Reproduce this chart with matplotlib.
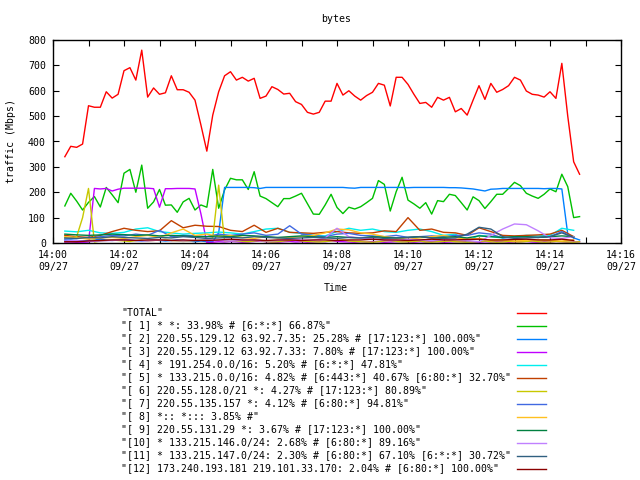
import matplotlib
matplotlib.use("Agg")
import matplotlib.pyplot as plt
from matplotlib.lines import Line2D

plt.rcParams['font.family'] = ['DejaVu Sans Mono']

# sample times, seconds after 14:00:00
t10 = list(range(20, 900, 10))
t20 = list(range(20, 900, 20))

total = [340, 381, 377, 390, 541, 535, 535, 596, 571, 586,
         679, 691, 642, 760, 575, 611, 586, 592, 659, 604,
         604, 594, 563, 465, 362, 504, 596, 659, 675, 642,
         653, 638, 649, 570, 579, 616, 605, 587, 590, 557,
         546, 515, 508, 515, 559, 559, 629, 583, 600, 579,
         563, 581, 594, 629, 622, 540, 653, 653, 625, 586,
         550, 554, 535, 574, 563, 574, 517, 530, 504, 563,
         620, 566, 629, 594, 605, 620, 653, 642, 599, 586,
         583, 575, 596, 570, 708, 500, 320, 271]

s1 = [146, 196, 165, 130, 160, 183, 142, 219, 190, 159,
      275, 290, 200, 307, 137, 162, 211, 149, 150, 121,
      162, 176, 130, 150, 141, 290, 137, 209, 255, 249,
      249, 211, 281, 185, 175, 159, 143, 175, 175, 185,
      196, 155, 114, 113, 150, 192, 140, 116, 141, 134,
      143, 159, 176, 246, 231, 126, 202, 259, 169, 154,
      137, 159, 114, 167, 163, 192, 187, 159, 130, 182,
      167, 136, 163, 192, 192, 215, 239, 226, 196, 185,
      176, 192, 213, 202, 271, 222, 100, 104]

s2 = [10, 12, 10, 8, 10, 12, 15, 12, 10, 12,
      15, 12, 10, 8, 10, 12, 10, 8, 10, 12,
      10, 8, 5, 8, 5, 5, 40, 219,
      219, 219, 219, 219, 218, 215, 219, 219, 219, 219,
      219, 219, 219, 219, 219, 219, 219, 219, 219, 219,
      217, 216, 219, 219, 219, 219, 219, 219, 219, 219,
      218, 219, 219, 219, 219, 219, 219, 218, 218, 217,
      215, 213, 209, 205, 212, 213, 215, 215, 215, 215,
      215, 215, 215, 214, 215, 215,
      213, 35, 20, 12]

s3 = [4, 4, 3, 3, 3,
      215, 213, 215, 205, 212, 216, 216, 216, 216, 216,
      214, 141, 214, 214, 215, 215, 215, 213,
      115, 2,
      3, 5, 4, 6, 5, 3, 4, 6, 8, 5,
      4, 3, 5, 6, 4, 5, 3, 4, 6, 5,
      8, 6, 5, 4, 3, 5, 4, 6, 5, 3,
      4, 5, 6, 4, 3, 5, 4, 6, 5, 3,
      4, 5, 6, 5, 4, 3, 5, 4, 6, 5,
      3, 4, 5, 6, 4, 3, 5, 4, 6, 5,
      3, 4, 5]

s6 = [20, 18, 25, 100, 215, 4,
      8, 10, 12, 10, 8, 6, 10, 12, 8, 10,
      12, 15, 10, 8, 6, 8, 10, 12, 15,
      20, 228, 8,
      10, 8, 6, 5, 8, 10, 6, 4, 5, 8,
      10, 12, 8, 6, 5, 4, 6, 8, 10, 12,
      8, 6, 5, 4, 3, 5, 8, 10, 6, 4,
      5, 6, 8, 4, 3, 5, 6, 8, 5, 4,
      3, 4, 6, 8, 5, 3, 4, 6, 5, 4,
      6, 8, 5, 3, 4, 6, 5, 4, 3, 5]

# smaller flows, every 20 s
s4 = [47, 44, 50, 40, 38, 42, 55, 60, 45, 40, 35,
      38, 40, 43, 40, 35, 45, 55, 58, 42, 38, 30,
      28, 45, 58, 50, 55, 45, 42, 50, 55, 45, 30,
      35, 8, 30, 25, 20, 25, 30, 28, 30, 58, 50]
s5 = [30, 25, 22, 30, 45, 58, 50, 45, 48, 88, 60,
      70, 66, 65, 50, 45, 70, 42, 58, 42, 40, 38,
      42, 45, 40, 38, 40, 48, 45, 100, 50, 55, 42,
      40, 30, 60, 45, 30, 28, 30, 32, 35, 50, 25]
s7 = [15, 20, 18, 25, 30, 28, 35, 30, 50, 25, 30,
      28, 25, 35, 30, 35, 40, 30, 35, 68, 35, 30,
      25, 35, 38, 30, 28, 25, 30, 22, 25, 28, 25,
      30, 30, 40, 35, 20, 22, 25, 22, 25, 45, 20]
s8 = [25, 22, 15, 20, 22, 18, 25, 30, 22, 40, 55,
      30, 35, 25, 30, 22, 18, 25, 20, 22, 25, 30,
      40, 55, 52, 40, 35, 25, 20, 15, 20, 25, 30,
      20, 15, 18, 10, 12, 8, 10, 12, 10, 8, 12]
s9 = [35, 32, 30, 32, 35, 33, 30, 32, 28, 30, 28,
      25, 25, 28, 25, 30, 28, 25, 22, 25, 28, 25,
      22, 25, 22, 20, 25, 22, 20, 22, 25, 20, 22,
      25, 20, 28, 25, 22, 25, 25, 22, 25, 28, 25]
s10 = [8, 10, 5, 8, 10, 12, 10, 8, 12, 10, 8,
       10, 12, 10, 8, 10, 12, 8, 10, 15, 12, 10,
       20, 58, 25, 20, 15, 12, 10, 15, 12, 10, 12,
       15, 10, 5, 30, 55, 75, 72, 48, 20, 18, 25]
s11 = [20, 18, 22, 20, 25, 22, 20, 18, 22, 20, 25,
       22, 18, 20, 22, 20, 25, 22, 20, 18, 20, 22,
       20, 18, 22, 20, 22, 18, 20, 22, 25, 20, 18,
       20, 35, 62, 55, 25, 18, 20, 22, 25, 40, 22]
s12 = [5, 5, 8, 10, 12, 12, 10, 12, 12, 10, 12,
       10, 10, 12, 15, 12, 12, 10, 12, 12, 10, 12,
       12, 10, 12, 12, 15, 12, 12, 10, 12, 15, 12,
       12, 14, 15, 12, 12, 14, 15, 12, 12, 15, 10]

labels = ['"TOTAL"',
          '"[ 1] * *: 33.98% # [6:*:*] 66.87%"',
          '"[ 2] 220.55.129.12 63.92.7.35: 25.28% # [17:123:*] 100.00%"',
          '"[ 3] 220.55.129.12 63.92.7.33: 7.80% # [17:123:*] 100.00%"',
          '"[ 4] * 191.254.0.0/16: 5.20% # [6:*:*] 47.81%"',
          '"[ 5] * 133.215.0.0/16: 4.82% # [6:443:*] 40.67% [6:80:*] 32.70%"',
          '"[ 6] 220.55.128.0/21 *: 4.27% # [17:123:*] 80.89%"',
          '"[ 7] 220.55.135.157 *: 4.12% # [6:80:*] 94.81%"',
          '"[ 8] *:: *::: 3.85% #"',
          '"[ 9] 220.55.131.29 *: 3.67% # [17:123:*] 100.00%"',
          '"[10] * 133.215.146.0/24: 2.68% # [6:80:*] 89.16%"',
          '"[11] * 133.215.147.0/24: 2.30% # [6:80:*] 67.10% [6:*:*] 30.72%"',
          '"[12] 173.240.193.181 219.101.33.170: 2.04% # [6:80:*] 100.00%"']
colors = ['#ff0000', '#00c000', '#0080ff', '#c000ff', '#00eeee', '#c04000',
          '#c8c800', '#4169e1', '#ffc020', '#008040', '#c080ff', '#306080',
          '#8b0000']
series = [(t10, total), (t10, s1), (t10, s2), (t10, s3), (t20, s4), (t20, s5),
          (t10, s6), (t20, s7), (t20, s8), (t20, s9), (t20, s10), (t20, s11),
          (t20, s12)]

xtick_labels = ['14:%02d\n09/27' % m if m % 2 == 0 else '' for m in range(17)]

fig = plt.figure(figsize=(6.4, 4.8), dpi=100)
ax = fig.add_axes([53 / 640, 1 - 243 / 480, 568 / 640, 203 / 480])

for (x, y), c in zip(series, colors):
    ax.plot(x, y, color=c, lw=1.0)

ax.set_xlim(0, 960)
ax.set_ylim(0, 800)
ax.set_xticks(list(range(0, 961, 60)))
ax.set_xticklabels(xtick_labels, linespacing=1.2)
ax.set_yticks(list(range(0, 801, 100)))
ax.tick_params(direction='in', length=4, width=0.8, top=True, right=True,
               labelsize=7.1, pad=5)
for sp in ax.spines.values():
    sp.set_linewidth(1.0)

fig.text(336 / 640, 1 - 19 / 480, 'bytes', ha='center', va='center', fontsize=7.1)
fig.text(11 / 640, 1 - 141 / 480, 'traffic (Mbps)', ha='center', va='center',
         rotation=90, fontsize=7.1)
fig.text(336 / 640, 1 - 288 / 480, 'Time', ha='center', va='center', fontsize=7.1)

# key below the plot
for i, (lab, c) in enumerate(zip(labels, colors)):
    yy = 1 - (312.5 + i * 13.0) / 480
    fig.text(121.3 / 640, yy, lab, ha='left', va='center', fontsize=7.13)
    fig.add_artist(Line2D([517 / 640, 546 / 640], [yy, yy], color=c, lw=1.0,
                          transform=fig.transFigure))

fig.savefig('out.png', dpi=100)
